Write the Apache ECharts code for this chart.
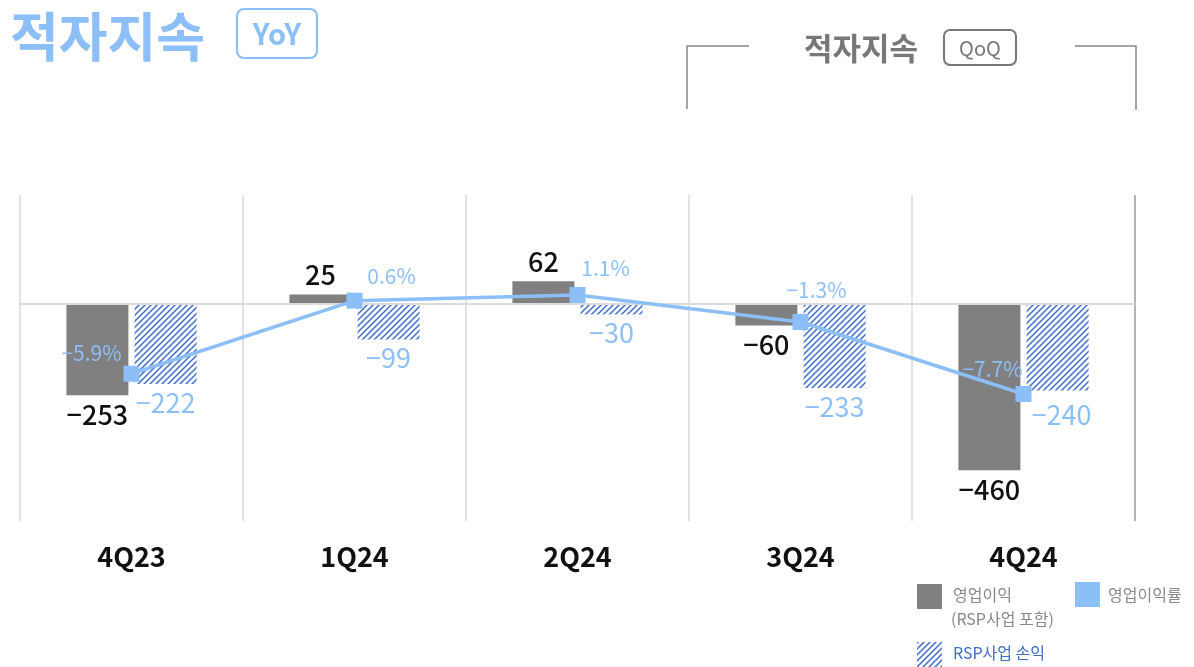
<!DOCTYPE html>
<html><head><meta charset="utf-8">
<script src="https://cdn.jsdelivr.net/npm/echarts@6/dist/echarts.min.js"></script>
<style>html,body{margin:0;padding:0;background:#fff}#c{width:1194px;height:667px}</style>
</head><body><div id="c"></div>
<script>
// ---- data ----
const categories = ['4Q23', '1Q24', '2Q24', '3Q24', '4Q24'];
const operatingProfit = [-253, 25, 62, -60, -460];      // 영업이익 (RSP사업 포함)
const rspProfit = [-222, -99, -30, -233, -240];         // RSP사업 손익
const operatingMargin = [-5.9, 0.6, 1.1, -1.3, -7.7];   // 영업이익률 (%)

// ---- styles ----
const FONT = "'Noto Sans CJK KR', 'Noto Sans', sans-serif";
const BLUE = '#8cbff8';
const GREY = '#808080';
const HATCH_BLUE = '#3d6cc9';
const marginLabelOffsets = [[-40, -21], [37, -25], [28, -27], [16, -32], [-31, -25]];
const rspLabelOffsets = [[0, 0], [0, 0], [0, 0], [0, 0], [4, 6]];

function fmtNum(v) { return String(v).replace('-', '\u2212'); }
function fmtPct(v) { return v.toFixed(1).replace('-', '\u2212') + '%'; }

function makeHatch() {
  const c = document.createElement('canvas');
  c.width = 6; c.height = 6;
  const g = c.getContext('2d');
  g.fillStyle = '#fff'; g.fillRect(0, 0, 6, 6);
  g.strokeStyle = HATCH_BLUE; g.lineWidth = 1.5;
  g.beginPath();
  g.moveTo(0, 6); g.lineTo(6, 0);
  g.moveTo(-3, 3); g.lineTo(3, -3);
  g.moveTo(3, 9); g.lineTo(9, 3);
  g.stroke();
  return c;
}
const hatch = makeHatch();

const chart = echarts.init(document.getElementById('c'));
const option = {
  animation: false,
  textStyle: { fontFamily: FONT },
  grid: { left: 20, right: 59, top: 195, bottom: 146 },
  xAxis: {
    type: 'category',
    data: categories,
    axisLine: { show: false },
    axisTick: { show: false },
    splitLine: { show: true, lineStyle: { color: ['#d9d9d9', '#d9d9d9', '#d9d9d9', '#d9d9d9', '#d9d9d9', '#9a9a9a'], width: 1.5 } },
    axisLabel: { fontSize: 27, fontWeight: 'bold', color: '#111', margin: 22, fontFamily: FONT }
  },
  yAxis: [
    { type: 'value', min: -600, max: 300, show: false },
    { type: 'value', min: -19, max: 10, show: false }
  ],
  series: [
    {
      type: 'bar',
      name: '영업이익',
      data: operatingProfit,
      barWidth: 62,
      barGap: '10%',
      itemStyle: { color: GREY },
      label: {
        show: true, position: 'outside', distance: 6,
        fontSize: 27, fontWeight: 500, color: '#111', fontFamily: FONT,
        formatter: p => fmtNum(p.value)
      },
      markLine: {
        silent: true, symbol: 'none',
        label: { show: false },
        lineStyle: { color: '#dcdcdc', width: 2, type: 'solid' },
        data: [{ yAxis: 0 }]
      },
      z: 2
    },
    {
      type: 'bar',
      name: 'RSP사업 손익',
      data: rspProfit.map((v, i) => ({ value: v, label: { offset: rspLabelOffsets[i] } })),
      barWidth: 62,
      itemStyle: { color: { image: hatch, repeat: 'repeat' } },
      label: {
        show: true, position: 'outside', distance: 5,
        fontSize: 27, color: BLUE, fontFamily: FONT,
        formatter: p => fmtNum(p.value)
      },
      z: 2
    },
    {
      type: 'line',
      name: '영업이익률',
      yAxisIndex: 1,
      data: operatingMargin.map((v, i) => ({ value: v, label: { offset: marginLabelOffsets[i] } })),
      symbol: 'rect',
      symbolSize: 16,
      lineStyle: { color: BLUE, width: 3.5 },
      itemStyle: { color: BLUE },
      label: {
        show: true, position: 'inside', fontSize: 21, color: BLUE, fontFamily: FONT,
        formatter: p => fmtPct(p.value)
      },
      z: 5
    }
  ],
  graphic: [
    // YoY title
    { type: 'text', x: 10, y: 37, style: { text: '적자지속', font: 'bold 53px ' + FONT, fill: BLUE, textVerticalAlign: 'middle' } },
    { type: 'rect', shape: { x: 237, y: 9, width: 80, height: 49, r: 7 }, style: { fill: 'none', stroke: BLUE, lineWidth: 2.2 } },
    { type: 'text', x: 277, y: 34, style: { text: 'YoY', font: 'bold 29px ' + FONT, fill: BLUE, textAlign: 'center', textVerticalAlign: 'middle' } },
    // QoQ title
    { type: 'text', x: 861, y: 48, style: { text: '적자지속', font: 'bold 31px ' + FONT, fill: '#777', textAlign: 'center', textVerticalAlign: 'middle' } },
    { type: 'rect', shape: { x: 944, y: 30, width: 72, height: 35, r: 6 }, style: { fill: 'none', stroke: '#777', lineWidth: 2 } },
    { type: 'text', x: 980, y: 48, style: { text: 'QoQ', font: '20px ' + FONT, fill: '#777', textAlign: 'center', textVerticalAlign: 'middle' } },
    { type: 'polyline', shape: { points: [[749, 46], [687, 46], [687, 109]] }, style: { stroke: '#888', lineWidth: 1.5, fill: 'none' } },
    { type: 'polyline', shape: { points: [[1075, 46], [1136, 46], [1136, 110]] }, style: { stroke: '#888', lineWidth: 1.5, fill: 'none' } },
    // legend
    { type: 'rect', shape: { x: 917, y: 584, width: 25, height: 25 }, style: { fill: GREY } },
    { type: 'text', x: 953, y: 595, style: { text: '영업이익', font: '16px ' + FONT, fill: '#888', textVerticalAlign: 'middle' } },
    { type: 'text', x: 951, y: 619, style: { text: '(RSP사업 포함)', font: '16px ' + FONT, fill: '#888', textVerticalAlign: 'middle' } },
    { type: 'rect', shape: { x: 1075, y: 582, width: 25, height: 25 }, style: { fill: BLUE } },
    { type: 'text', x: 1108, y: 595, style: { text: '영업이익률', font: '16px ' + FONT, fill: '#888', textVerticalAlign: 'middle' } },
    { type: 'rect', shape: { x: 917, y: 642, width: 25, height: 25 }, style: { fill: { image: hatch, repeat: 'repeat' } } },
    { type: 'text', x: 953, y: 653, style: { text: 'RSP사업 손익', font: '16px ' + FONT, fill: HATCH_BLUE, textVerticalAlign: 'middle' } }
  ]
};
chart.setOption(option);
</script>
</body></html>
